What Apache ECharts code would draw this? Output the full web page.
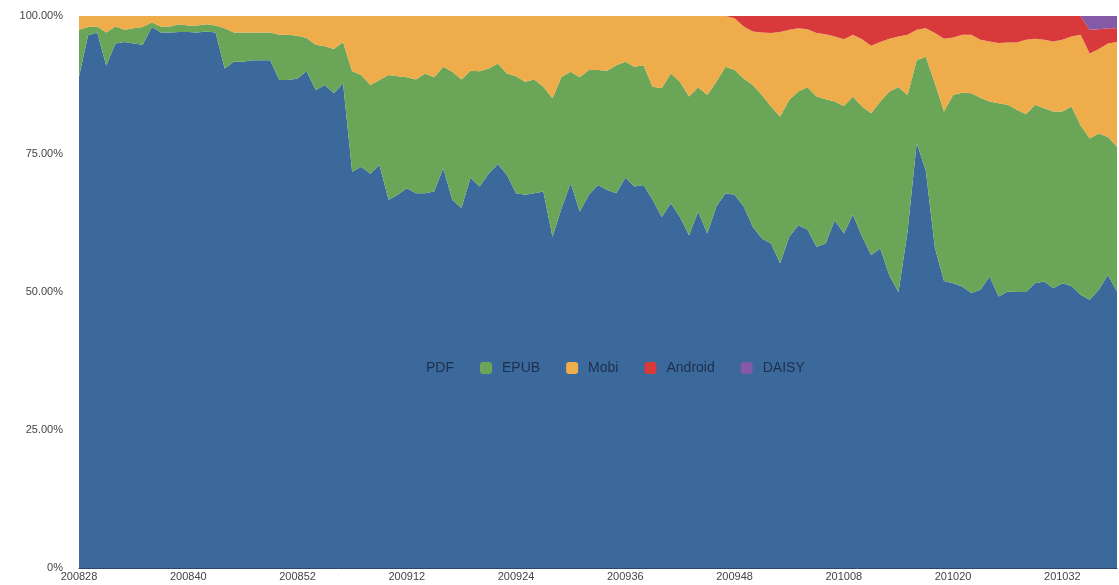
<!DOCTYPE html>
<html>
<head>
<meta charset="utf-8">
<script src="https://cdn.jsdelivr.net/npm/echarts@6/dist/echarts.min.js"></script>
<style>
html,body{margin:0;padding:0;background:#fff;}
#chart{width:1119px;height:585px;}
</style>
</head>
<body>
<div id="chart"></div>
<script>
// ISO week codes (yyyyww)
const weeks = [
 "200828","200829","200830","200831","200832","200833","200834","200835","200836","200837",
 "200838","200839","200840","200841","200842","200843","200844","200845","200846","200847",
 "200848","200849","200850","200851","200852",
 "200901","200902","200903","200904","200905","200906","200907","200908","200909","200910",
 "200911","200912","200913","200914","200915","200916","200917","200918","200919","200920",
 "200921","200922","200923","200924","200925","200926","200927","200928","200929","200930",
 "200931","200932","200933","200934","200935","200936","200937","200938","200939","200940",
 "200941","200942","200943","200944","200945","200946","200947","200948","200949","200950",
 "200951","200952",
 "201001","201002","201003","201004","201005","201006","201007","201008","201009","201010",
 "201011","201012","201013","201014","201015","201016","201017","201018","201019","201020",
 "201021","201022","201023","201024","201025","201026","201027","201028","201029","201030",
 "201031","201032","201033","201034","201035","201036","201037","201038"
];

// share of downloads per format, percent
const pdf = [
 89,96.5,97,91,95,95.3,95,94.8,98,97,
 97,97.1,97.1,97,97.2,97,90.5,91.7,91.7,92,
 92,92,88.4,88.4,88.7,90,86.6,87.5,86,87.8,
 71.8,72.7,71.4,73,66.7,67.6,68.8,67.9,67.9,68.2,
 72.4,66.7,65.2,70.7,69.1,71.4,73.2,71.2,67.9,67.6,
 67.9,68.2,60,65.2,69.7,64.6,67.6,69.4,68.5,67.9,
 70.7,69.1,69.4,66.7,63.6,66.1,63.6,60.3,64.6,60.6,
 65.5,67.9,67.6,65.5,61.8,59.7,58.8,55.2,60,62.1,
 61.3,58.2,58.8,63,60.6,64,60,56.7,57.9,53,
 50,61,77,72,58,52,51.6,51,49.8,50.4,
 52.8,49.2,50.1,50,50,51.6,51.9,50.7,51.6,51.1,
 49.5,48.6,50.4,53.1,50.1
];
const epub = [
 8.5,1.5,1.1,6,3.1,2.2,2.8,3.2,0.8,1.1,
 1.1,1.4,1.2,1.3,1.3,1.3,7.3,5.3,5.3,5,
 5,5,8.2,8.2,7.7,6,8.2,7,8,7.5,
 18.2,16.6,16.1,15.4,22.6,21.5,20.1,20.6,21.7,20.7,
 18.4,23.2,23.3,19.4,20.9,19.1,18.2,18.4,21.2,20.5,
 20.6,19,25.1,23.8,20.2,24.3,22.6,20.8,21.6,23.2,
 21,21.7,21.7,20.5,23.3,23.5,24.5,25.1,22.5,25.1,
 22.6,22.9,22.6,23.2,25.7,26,24.8,26.6,24.8,24.2,
 25.8,27.2,26.1,21.5,23.1,21.4,23.6,25.7,26.6,33.3,
 37.1,24.7,15,20.6,29.8,30.7,34.1,35.1,36.2,34.8,
 31.7,35,33.8,33,32.2,32.3,31.4,32,31.1,32.5,
 30.7,29.2,28.3,25,26.2
];
const mobi = [
 2.5,2,1.9,3,1.9,2.5,2.2,2,1.2,1.9,
 1.9,1.5,1.7,1.7,1.5,1.7,2.2,3,3,3,
 3,3,3.4,3.4,3.6,4,5.2,5.5,6,4.7,
 10,10.7,12.5,11.6,10.7,10.9,11.1,11.5,10.4,11.1,
 9.2,10.1,11.5,9.9,10,9.5,8.6,10.4,10.9,11.9,
 11.5,12.8,14.9,11,10.1,11.1,9.8,9.8,9.9,8.9,
 8.3,9.2,8.9,12.8,13.1,10.4,11.9,14.6,12.9,14.3,
 11.9,9.2,9.4,9.4,9.7,11.3,13.3,15.3,12.7,11.5,
 10.5,11.5,11.8,11.8,12.1,11.2,12.2,12.2,10.8,9.6,
 9.2,10.9,5.5,5.2,9.1,13.2,10.4,10.5,10.6,10.5,
 10.9,10.9,11.3,12.2,13.5,12,12.4,12.7,13,12.7,
 16.4,15.4,15.3,16.9,19
];
const android = [
 0,0,0,0,0,0,0,0,0,0,
 0,0,0,0,0,0,0,0,0,0,
 0,0,0,0,0,0,0,0,0,0,
 0,0,0,0,0,0,0,0,0,0,
 0,0,0,0,0,0,0,0,0,0,
 0,0,0,0,0,0,0,0,0,0,
 0,0,0,0,0,0,0,0,0,0,
 0,0,0.4,1.9,2.8,3,3.1,2.9,2.5,2.2,
 2.4,3.1,3.3,3.7,4.2,3.4,4.2,5.4,4.7,4.1,
 3.7,3.4,2.5,2.2,3.1,4.1,3.9,3.4,3.4,4.3,
 4.6,4.9,4.8,4.8,4.3,4.1,4.3,4.6,4.3,3.7,
 3.4,4.3,3.6,2.8,2.5
];
const daisy = [
 0,0,0,0,0,0,0,0,0,0,
 0,0,0,0,0,0,0,0,0,0,
 0,0,0,0,0,0,0,0,0,0,
 0,0,0,0,0,0,0,0,0,0,
 0,0,0,0,0,0,0,0,0,0,
 0,0,0,0,0,0,0,0,0,0,
 0,0,0,0,0,0,0,0,0,0,
 0,0,0,0,0,0,0,0,0,0,
 0,0,0,0,0,0,0,0,0,0,
 0,0,0,0,0,0,0,0,0,0,
 0,0,0,0,0,0,0,0,0,0,
 0,2.5,2.4,2.2,2.2
];
const yTicks = [0,25,50,75,100];

const names = ["PDF","EPUB","Mobi","Android","DAISY"];
const colors = ["#3b699c","#6ba558","#efac4a","#d83a3c","#8459a6"];
const values = [pdf, epub, mobi, android, daisy];

const chart = echarts.init(document.getElementById('chart'), null, {renderer:'canvas'});
const font = 'Liberation Sans, Arial, Helvetica, sans-serif';
chart.setOption({
  animation:false,
  color: colors,
  grid:{left:79, right:2, top:16, bottom:17, containLabel:false},
  legend:{
    data:names, left:399, top:356, itemWidth:12, itemHeight:12, itemGap:26,
    icon:'roundRect',
    textStyle:{color:'#1f2e4c', fontSize:14, fontFamily:font, padding:[0,0,0,5]}
  },
  xAxis:{
    type:'category', data:weeks, boundaryGap:false,
    axisLine:{show:true, lineStyle:{color:'#2c4670', width:1}},
    axisTick:{show:false},
    axisLabel:{interval:11, color:'#444', fontSize:11, fontFamily:font, margin:3},
    splitLine:{show:false}
  },
  yAxis:{
    type:'value', min:0, max:100, interval:25,
    axisLine:{show:false}, axisTick:{show:false}, splitLine:{show:false},
    axisLabel:{color:'#444', fontSize:11, fontFamily:font, margin:16,
      formatter: v => v === 0 ? '0%' : v.toFixed(2) + '%'}
  },
  series: names.map((n,k)=>({
    name:n, type:'line', stack:'total', data:values[k],
    symbol:'none', showSymbol:false,
    lineStyle:{width:0}, 
    areaStyle:{color:colors[k], opacity:1},
    emphasis:{disabled:true}
  }))
});
</script>
</body>
</html>
